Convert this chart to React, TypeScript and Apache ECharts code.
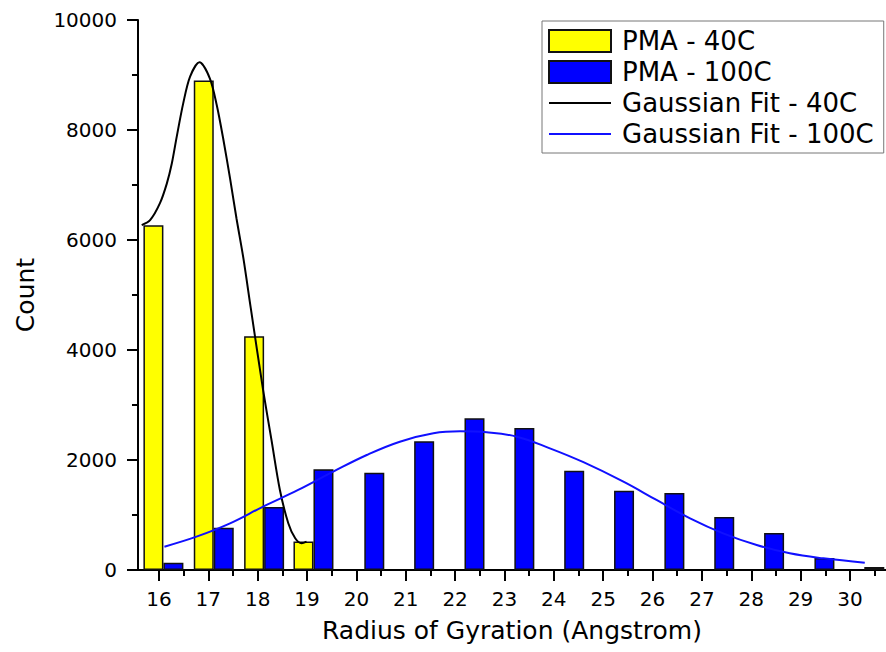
import React, { useEffect, useRef } from 'react';
import * as echarts from 'echarts';

const xTicks = [16, 17, 18, 19, 20, 21, 22, 23, 24, 25, 26, 27, 28, 29, 30];
const xMinorTicks = [16.5, 17.5, 18.5, 19.5, 20.5, 21.5, 22.5, 23.5, 24.5, 25.5, 26.5, 27.5, 28.5, 29.5, 30.5];
const yTicks = [0, 2000, 4000, 6000, 8000, 10000];

const binsPMA40 = [16.09, 17.11, 18.13, 19.13];
const countsPMA40 = [6270, 8900, 4250, 520];

const binsPMA100 = [16.09, 17.11, 18.13, 19.13, 20.16, 21.17, 22.19, 23.2, 24.21, 25.22, 26.24, 27.25, 28.26, 29.28, 30.29];
const countsPMA100 = [130, 770, 1145, 1830, 1770, 2340, 2760, 2580, 1805, 1440, 1400, 965, 675, 218, 55];

const fit40X = [15.65, 15.82, 16.02, 16.16, 16.26, 16.36, 16.49, 16.63, 16.82, 17.03, 17.17, 17.3, 17.44, 17.57, 17.71, 17.86, 18.11, 18.28, 18.45, 18.62, 18.76, 18.89, 18.99];
const fit40Y = [6270, 6360, 6670, 7030, 7390, 7880, 8480, 8970, 9230, 8940, 8455, 7850, 7120, 6395, 5670, 4760, 3270, 2360, 1455, 850, 576, 485, 515];

const fit100X = [16.11, 16.76, 17.44, 18.11, 18.82, 19.53, 20.21, 20.88, 21.56, 22.1, 22.64, 23.25, 23.92, 24.6, 25.41, 26.08, 26.76, 27.43, 28.11, 28.78, 29.46, 30.3];
const fit100Y = [424, 606, 848, 1152, 1455, 1788, 2091, 2333, 2485, 2521, 2503, 2424, 2212, 1960, 1606, 1273, 939, 667, 455, 303, 212, 133];

const FONT = 'DejaVu Sans';
const LINE_ICON = 'path://M0,0 L62,0 L62,2 L0,2 Z';

export default function App() {
  const ref = useRef<HTMLDivElement>(null);
  useEffect(() => {
    document.body.style.margin = '0';
    const chart = echarts.init(ref.current!, null, { renderer: 'svg' });
    const pair = (xs: number[], ys: number[]) => xs.map((x, i) => [x, ys[i]]);
    const plain = (v: number) => String(v);
    chart.setOption({
      animation: false,
      backgroundColor: '#ffffff',
      textStyle: { fontFamily: FONT, color: '#000' },
      grid: { left: 138, top: 20, right: 0, bottom: 82 },
      legend: {
        orient: 'vertical',
        left: 542,
        top: 21,
        padding: [7, 10, 6, 6],
        borderColor: '#777',
        borderWidth: 1,
        backgroundColor: '#fff',
        itemWidth: 62,
        itemHeight: 22,
        itemGap: 5,
        textStyle: { fontFamily: FONT, fontSize: 26, color: '#000', padding: [0, 0, 0, 6] },
        data: [
          { name: 'PMA - 40C', icon: 'rect' },
          { name: 'PMA - 100C', icon: 'rect' },
          { name: 'Gaussian Fit - 40C', icon: LINE_ICON },
          { name: 'Gaussian Fit - 100C', icon: LINE_ICON },
        ],
      },
      xAxis: [
        {
          type: 'value',
          min: 15.575,
          max: 30.73,
          name: 'Radius of Gyration (Angstrom)',
          nameLocation: 'middle',
          nameGap: 48,
          nameTextStyle: { fontFamily: FONT, fontSize: 25, color: '#000' },
          axisLine: { show: true, onZero: false, lineStyle: { color: '#000', width: 2 } },
          axisTick: { show: true, inside: false, length: 11, customValues: xTicks, lineStyle: { color: '#000', width: 2 } },
          axisLabel: { show: true, customValues: xTicks, margin: 19, formatter: plain, fontFamily: FONT, fontSize: 20, color: '#000' },
          splitLine: { show: false },
        },
        {
          type: 'value',
          min: 15.575,
          max: 30.73,
          position: 'bottom',
          axisLine: { show: false },
          axisTick: { show: true, inside: false, length: 6, customValues: xMinorTicks, lineStyle: { color: '#000', width: 2 } },
          axisLabel: { show: false },
          splitLine: { show: false },
        },
      ],
      yAxis: {
        type: 'value',
        min: 0,
        max: 10000,
        interval: 2000,
        name: 'Count',
        nameLocation: 'middle',
        nameRotate: 90,
        nameGap: 100,
        nameTextStyle: { fontFamily: FONT, fontSize: 25, color: '#000' },
        axisLine: { show: true, lineStyle: { color: '#000', width: 2 } },
        axisTick: { show: true, inside: false, length: 11, lineStyle: { color: '#000', width: 2 } },
        minorTick: { show: true, splitNumber: 2, length: 6, lineStyle: { color: '#000', width: 2 } },
        axisLabel: { margin: 21, formatter: plain, fontFamily: FONT, fontSize: 20, color: '#000', customValues: yTicks },
        splitLine: { show: false },
      },
      series: [
        {
          type: 'bar',
          name: 'PMA - 40C',
          data: pair(binsPMA40, countsPMA40),
          barWidth: 20,
          barGap: '0%',
          itemStyle: { color: '#ffff00', borderColor: '#111', borderWidth: 1.5 },
        },
        {
          type: 'bar',
          name: 'PMA - 100C',
          data: pair(binsPMA100, countsPMA100),
          barWidth: 20,
          barGap: '0%',
          itemStyle: { color: '#0000ff', borderColor: '#111', borderWidth: 1.5 },
        },
        {
          type: 'line',
          name: 'Gaussian Fit - 40C',
          data: pair(fit40X, fit40Y),
          smooth: 0.3,
          symbol: 'none',
          lineStyle: { color: '#000', width: 2 },
          itemStyle: { color: '#000' },
        },
        {
          type: 'line',
          name: 'Gaussian Fit - 100C',
          data: pair(fit100X, fit100Y),
          smooth: 0.4,
          symbol: 'none',
          lineStyle: { color: '#1010ff', width: 2 },
          itemStyle: { color: '#1010ff' },
        },
      ],
    });
    return () => chart.dispose();
  }, []);
  return <div ref={ref} style={{ position: 'fixed', left: 0, top: 0, width: 886, height: 652 }} />;
}
